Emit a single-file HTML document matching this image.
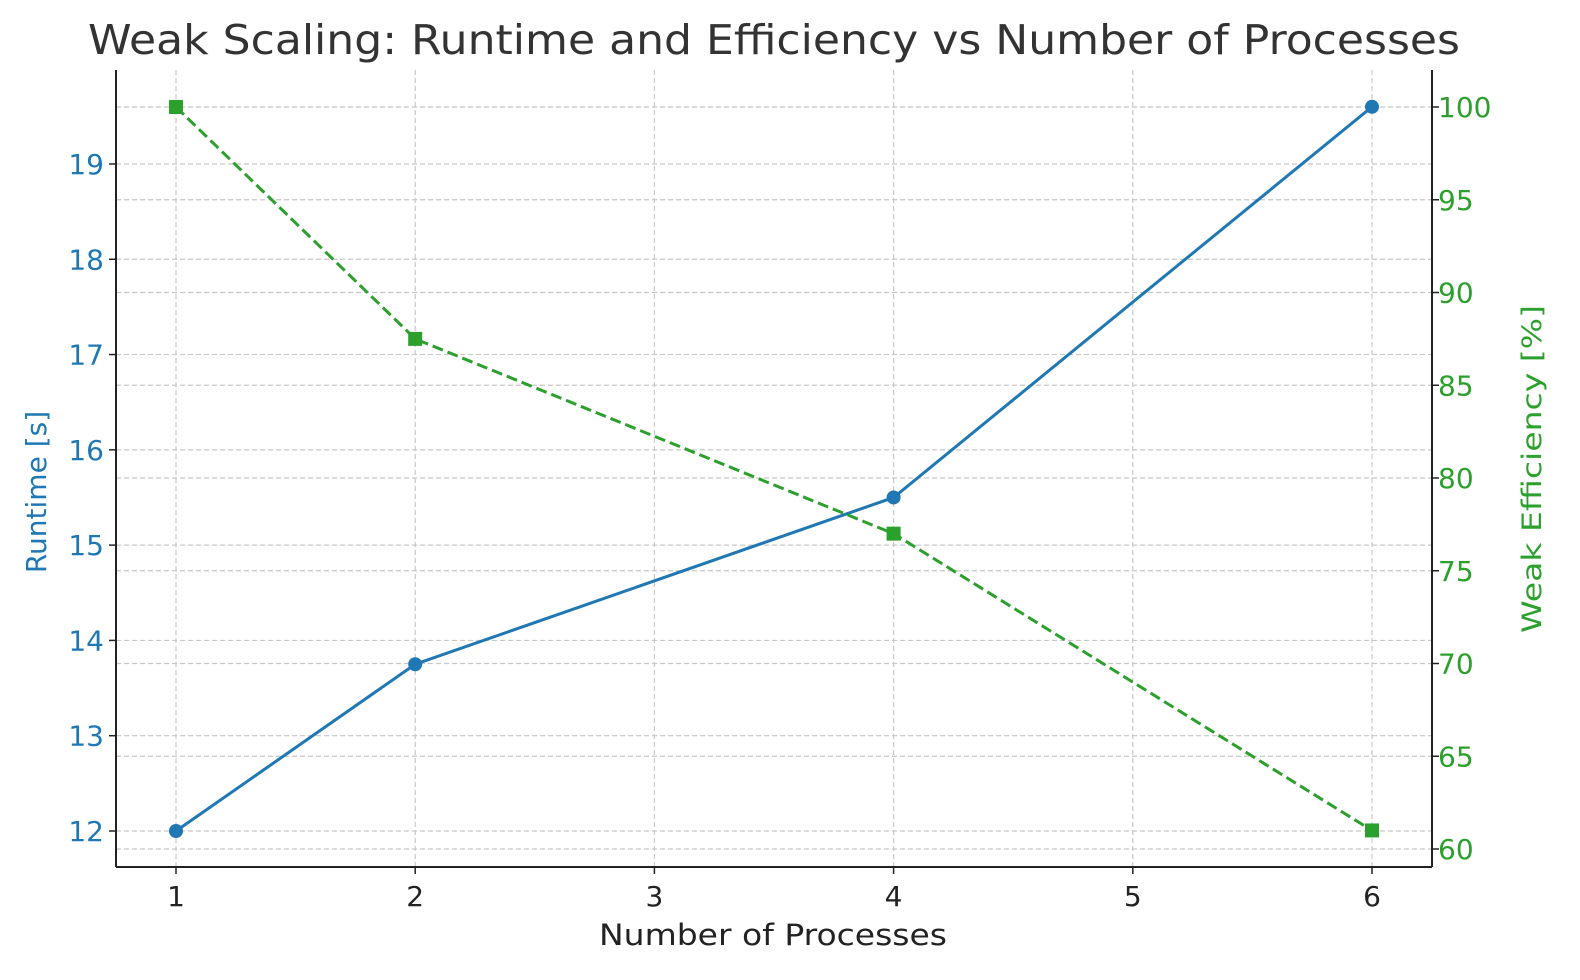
<!DOCTYPE html>
<html><head><meta charset="utf-8"><style>
body{margin:0;background:#fff;}
svg{display:block;font-family:"DejaVu Sans","Liberation Sans",sans-serif;}
</style></head><body>
<svg id="chart" width="1580" height="980">
<text x="774" y="54" text-anchor="middle" font-size="41" fill="#333" textLength="1372" lengthAdjust="spacingAndGlyphs">Weak Scaling: Runtime and Efficiency vs Number of Processes</text>
<g id="grid"></g>
<g id="axes"></g>
<g id="series"></g>
<text x="773" y="945" text-anchor="middle" font-size="29" fill="#222" textLength="348" lengthAdjust="spacingAndGlyphs">Number of Processes</text>
<text transform="translate(46,492) rotate(-90)" text-anchor="middle" font-size="28" fill="#1f77b4">Runtime [s]</text>
<text transform="translate(1541,469) rotate(-90)" text-anchor="middle" font-size="27" fill="#2ca02c" textLength="328" lengthAdjust="spacingAndGlyphs">Weak Efficiency [%]</text>
</svg>
<script>
const procs=[1,2,4,6];
const runtime=[12,13.75,15.5,19.6];
const efficiency=[100,87.5,77,61];
const xTicks=[1,2,3,4,5,6];
const leftTicks=[12,13,14,15,16,17,18,19];
const rightTicks=[60,65,70,75,80,85,90,95,100];

const L=116,R=1432,T=70,B=867;
const xs=v=>176+(v-1)*239.2;
const yl=v=>831-(v-12)*95.29;
const yr=v=>107+(100-v)*18.55;
const NS='http://www.w3.org/2000/svg';
function mk(tag,attrs,parent){const e=document.createElementNS(NS,tag);for(const k in attrs)e.setAttribute(k,attrs[k]);document.getElementById(parent).appendChild(e);return e;}

xTicks.forEach(v=>{
 const g=mk('line',{x1:xs(v),x2:xs(v),y1:T,y2:B,stroke:'#c8c8c8','stroke-width':1.2,'stroke-dasharray':'5,3'},'grid');
 
 
 mk('line',{x1:xs(v),x2:xs(v),y1:B,y2:B+7,stroke:'#222','stroke-width':1.5},'axes');
 const t=mk('text',{x:xs(v),y:B+39,'text-anchor':'middle','font-size':28,fill:'#222'},'axes');t.textContent=v;
 
 
});
leftTicks.forEach(v=>{
 const g=mk('line',{x1:L,x2:R,y1:yl(v),y2:yl(v),stroke:'#c8c8c8','stroke-width':1.2,'stroke-dasharray':'5,3'},'grid');
 
 
 mk('line',{x1:L-7,x2:L,y1:yl(v),y2:yl(v),stroke:'#222','stroke-width':1.5},'axes');
 const t=mk('text',{x:L-12,y:yl(v)+10,'text-anchor':'end','font-size':28,fill:'#1f77b4'},'axes');t.textContent=v;
 
 
});
rightTicks.forEach(v=>{
 const g=mk('line',{x1:L,x2:R,y1:yr(v),y2:yr(v),stroke:'#c8c8c8','stroke-width':1.2,'stroke-dasharray':'5,3'},'grid');
 
 
 mk('line',{x1:R,x2:R+7,y1:yr(v),y2:yr(v),stroke:'#222','stroke-width':1.5},'axes');
 const t=mk('text',{x:R+6,y:yr(v)+10,'font-size':28,fill:'#2ca02c'},'axes');t.textContent=v;
 
 
});
mk('line',{x1:L,x2:L,y1:T,y2:B,stroke:'#222','stroke-width':2},'axes');
mk('line',{x1:R,x2:R,y1:T,y2:B,stroke:'#222','stroke-width':2},'axes');
mk('line',{x1:L,x2:R,y1:B,y2:B,stroke:'#222','stroke-width':2},'axes');

const rl=mk('polyline',{points:procs.map((p,i)=>xs(p)+','+yl(runtime[i])).join(' '),fill:'none',stroke:'#1f77b4','stroke-width':3},'series');


const el=mk('polyline',{points:procs.map((p,i)=>xs(p)+','+yr(efficiency[i])).join(' '),fill:'none',stroke:'#2ca02c','stroke-width':3,'stroke-dasharray':'11,5'},'series');


procs.forEach((p,i)=>{
 const c=mk('circle',{cx:xs(p),cy:yl(runtime[i]),r:7,fill:'#1f77b4'},'series');
 
 
 const s=mk('rect',{x:xs(p)-7,y:yr(efficiency[i])-7,width:14,height:14,fill:'#2ca02c'},'series');
 
 
});
</script>
</body></html>
